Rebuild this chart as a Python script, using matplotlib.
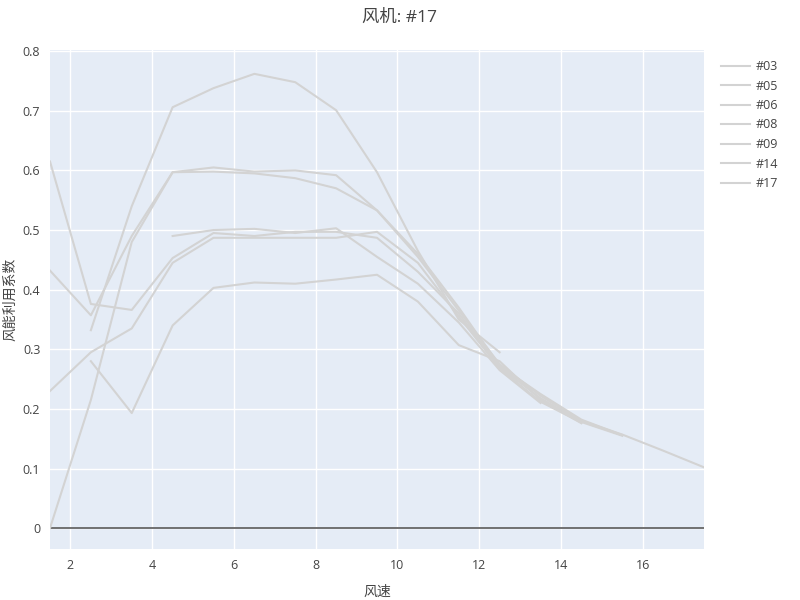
import numpy as np
import matplotlib
matplotlib.use("Agg")
import matplotlib.pyplot as plt

plt.rcParams['font.family'] = ['Open Sans', 'Noto Sans CJK SC', 'DejaVu Sans']

nan = np.nan
# wind speed bins
wind = [1.5, 2.5, 3.5, 4.5, 5.5, 6.5, 7.5, 8.5, 9.5, 10.5, 11.5, 12.5, 13.5, 14.5, 15.5, 16.5, 17.5]

names = ['#03', '#05', '#06', '#08', '#09', '#14', '#17']

cp_03 = [0.615, 0.376, 0.366, 0.453, 0.495, 0.49, 0.497, 0.497, 0.487, 0.43, 0.36, 0.27, 0.218, 0.178, 0.155, nan, nan]
cp_05 = [0.432, 0.357, 0.49, 0.597, 0.598, 0.595, 0.587, 0.57, 0.533, 0.455, 0.365, 0.275, 0.222, 0.18, 0.157, 0.13, 0.102]
cp_06 = [0.23, 0.295, 0.335, 0.445, 0.487, 0.487, 0.487, 0.487, 0.497, 0.445, 0.355, 0.268, 0.212, 0.177, nan, nan, nan]
cp_08 = [0.0, 0.215, 0.48, 0.597, 0.605, 0.598, 0.60, 0.592, 0.533, 0.46, 0.37, 0.272, 0.225, 0.182, 0.156, nan, nan]
cp_09 = [nan, 0.28, 0.193, 0.34, 0.403, 0.412, 0.41, 0.417, 0.425, 0.38, 0.307, 0.28, 0.215, 0.176, nan, nan, nan]
cp_14 = [nan, nan, nan, 0.49, 0.50, 0.502, 0.495, 0.503, 0.455, 0.41, 0.345, 0.265, 0.21, nan, nan, nan, nan]
cp_17 = [nan, 0.332, 0.54, 0.706, 0.738, 0.762, 0.748, 0.701, 0.597, 0.465, 0.35, 0.295, nan, nan, nan, nan, nan]

series = [cp_03, cp_05, cp_06, cp_08, cp_09, cp_14, cp_17]

fig = plt.figure(figsize=(8, 6), dpi=100)
ax = fig.add_axes([50/800, 1-549/600, 654/800, 499/600])
ax.set_facecolor('#E5ECF6')

for name, cp in zip(names, series):
    ax.plot(wind, cp, color='#D3D3D3', lw=1.5, label=name, zorder=3)

ax.axhline(0, color='#666666', lw=1.3, zorder=2)

ax.set_xlim(1.5, 17.5)
ax.set_ylim(-0.035, 0.802)
ax.set_xticks(np.arange(2, 17, 2))
ax.set_yticks(np.arange(0, 0.81, 0.1))
ax.set_yticklabels(['0', '0.1', '0.2', '0.3', '0.4', '0.5', '0.6', '0.7', '0.8'])
ax.grid(color='white', lw=1)
ax.set_axisbelow(True)
for s in ax.spines.values():
    s.set_visible(False)
ax.tick_params(length=0, labelsize=9, colors='#444444', pad=7)

# axis titles placed in figure pixels like the original
fig.text(377/800, 1-592/600, '风速', ha='center', va='center', fontsize=10, color='#444444')
fig.text(11/800, 1-299/600, '风能利用系数', ha='center', va='center', rotation=90, fontsize=10, color='#444444')
fig.text(0.5, 1-18/600, '风机: #17', ha='center', va='center', fontsize=12.5, color='#444444')

fig.legend(loc='upper left', bbox_to_anchor=(716/800, 1-55/600), frameon=False,
           fontsize=9, labelcolor='#444444', handlelength=2.3, handletextpad=0.5,
           labelspacing=0.52, borderaxespad=0)

fig.savefig('out.png', dpi=100)
